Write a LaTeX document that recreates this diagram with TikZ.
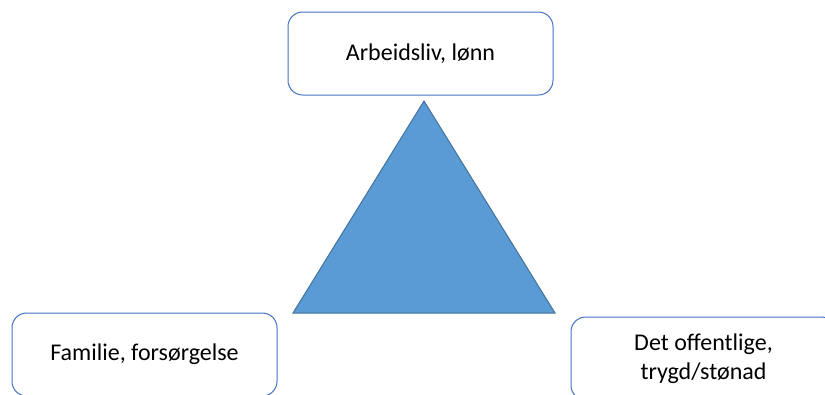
\documentclass[tikz,border=0pt]{standalone}
\usepackage{fontspec}
\setmainfont{Carlito}
\usepackage{xcolor}
\usepackage{tikz}
\usetikzlibrary{positioning}
\definecolor{boxblue}{HTML}{4472C4}
\definecolor{trifill}{HTML}{5B9BD5}
\definecolor{triline}{HTML}{41719C}

\begin{document}
\begin{tikzpicture}[
        x=0.75pt, y=-0.75pt,
        box/.style={rectangle, draw=boxblue, line width=0.75pt, rounded corners=11pt, fill=white, minimum height=62.25pt, minimum width=198.75pt, align=center, font=\fontsize{18}{21.6}\selectfont},
        wedge/.style={draw=triline, line width=0.75pt, fill=trifill, line join=miter}
    ]
        \useasboundingbox (0,0) rectangle (825,394);

        \node[box] (work) at (420.5,53.5) {Arbeidsliv, lønn};
        \node[box] (family) at (144.5,354.5) {Familie, forsørgelse};
        \node[box] (public) at (703.5,358.5) {Det offentlige,\\trygd/stønad};

        \coordinate (apex) at (424,101);
        \coordinate (baseL) at (293,313);
        \coordinate (baseR) at (555,313);
        \draw[wedge] (apex) -- (baseR) -- (baseL) -- cycle;
    \end{tikzpicture}
\end{document}
